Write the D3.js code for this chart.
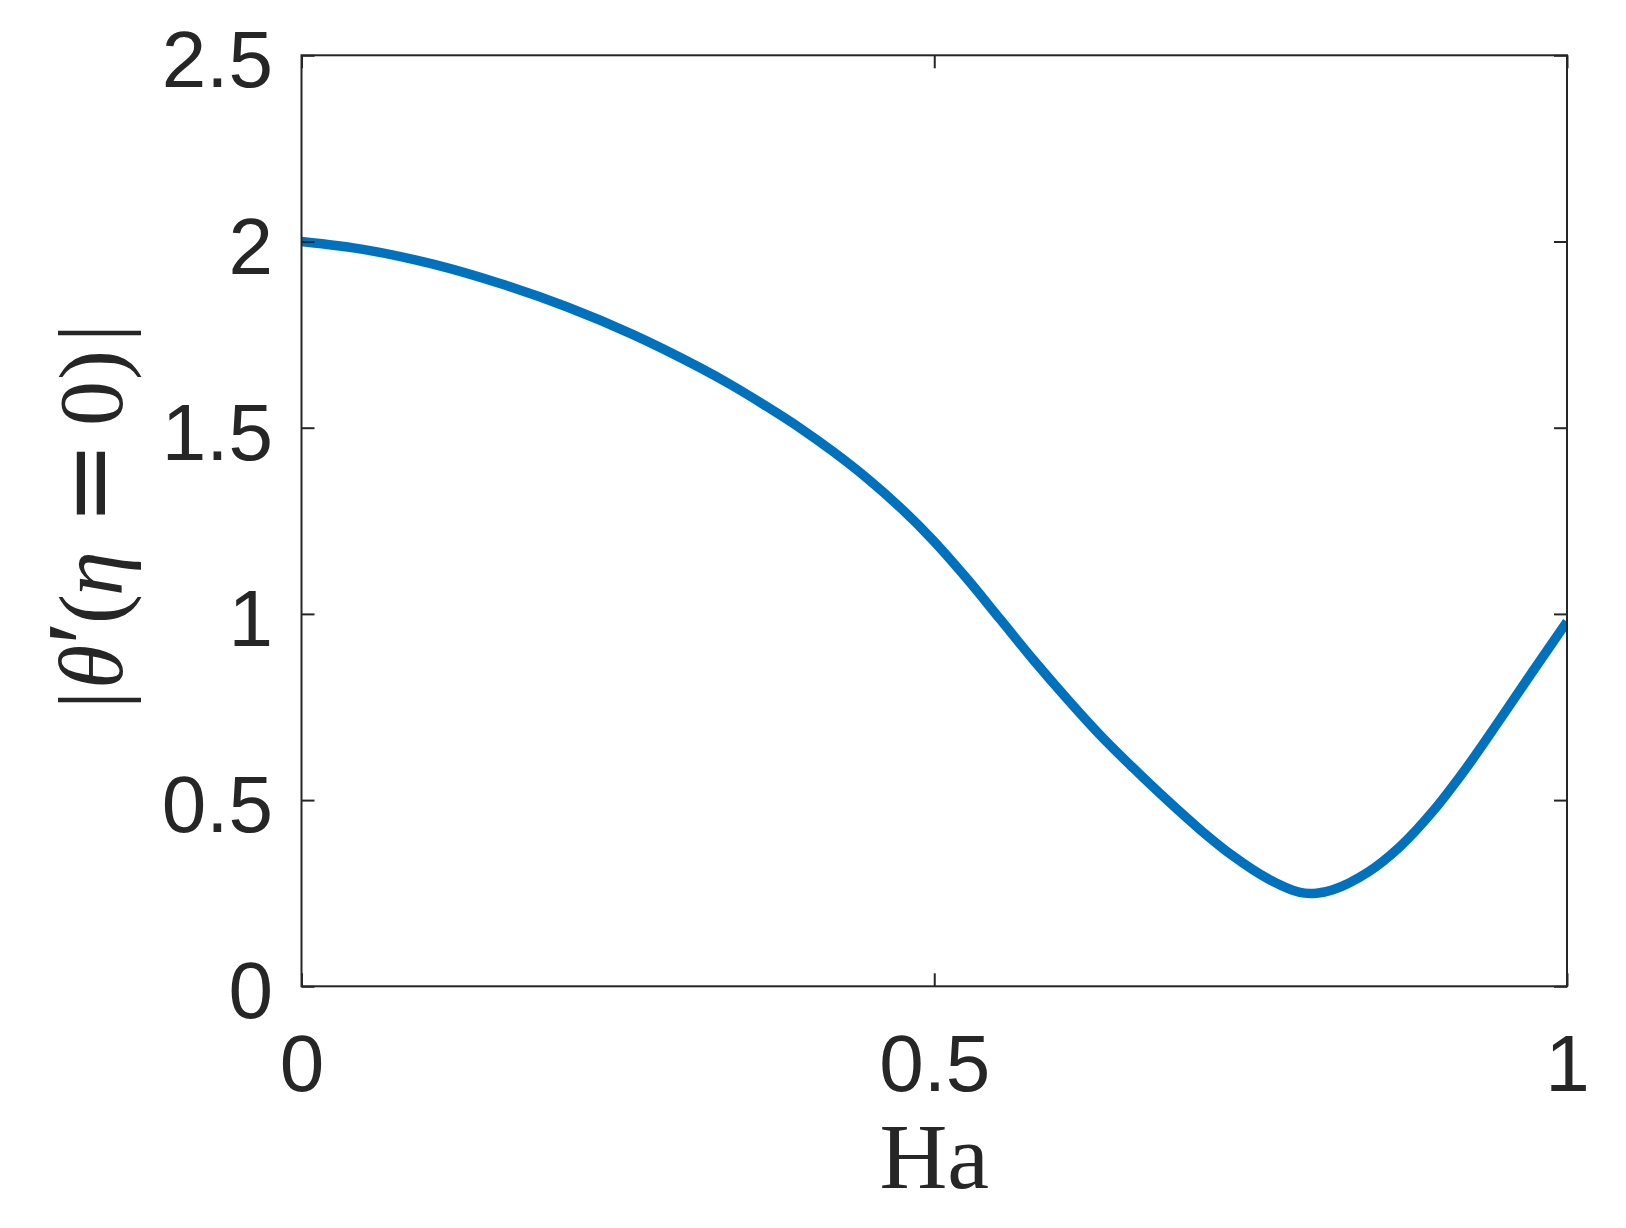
<!DOCTYPE html>
<html>
<head>
<meta charset="utf-8">
<script src="https://cdn.jsdelivr.net/npm/d3@7"></script>
<style>
  html, body { margin: 0; padding: 0; background: #ffffff; }
  svg { display: block; }
</style>
</head>
<body>
<div id="chart"></div>
<script>
// ---- data ----
const haValues = [0, 0.052, 0.104, 0.157, 0.210, 0.262, 0.315, 0.341, 0.368, 0.394, 0.420, 0.447, 0.473, 0.499, 0.526, 0.552, 0.578, 0.605, 0.631, 0.657, 0.684, 0.710, 0.736, 0.763, 0.789, 0.802, 0.815, 0.842, 0.868, 0.894, 0.921, 0.947, 0.973, 1.000];
const thetaPrime = [2.000, 1.977, 1.939, 1.887, 1.824, 1.750, 1.661, 1.612, 1.556, 1.499, 1.436, 1.364, 1.286, 1.198, 1.094, 0.986, 0.878, 0.772, 0.675, 0.587, 0.500, 0.421, 0.350, 0.290, 0.252, 0.250, 0.259, 0.305, 0.375, 0.470, 0.589, 0.716, 0.846, 0.979];
const xTicks = [0, 0.5, 1];
const xTickLabels = ["0", "0.5", "1"];
const yTicks = [0, 0.5, 1, 1.5, 2, 2.5];
const yTickLabels = ["0", "0.5", "1", "1.5", "2", "2.5"];
const xLabel = "Ha";

const W = 1626, H = 1228;
const plot = { left: 301.5, right: 1567, top: 55.3, bottom: 986.3 };
const axisColor = "#262626";
const lineColor = "#0072BD";
const tickLen = 13;

const svg = d3.select("#chart").append("svg")
  .attr("width", W).attr("height", H)
  .attr("viewBox", `0 0 ${W} ${H}`);

const x = d3.scaleLinear().domain([0, 1]).range([plot.left, plot.right]);
const y = d3.scaleLinear().domain([0, 2.5]).range([plot.bottom, plot.top]);

svg.append("defs").append("clipPath").attr("id", "clip")
  .append("rect")
  .attr("x", plot.left).attr("y", plot.top)
  .attr("width", plot.right - plot.left).attr("height", plot.bottom - plot.top);

// data line
const data = haValues.map((h, i) => ({ x: h, y: thetaPrime[i] }));
const line = d3.line().x(d => x(d.x)).y(d => y(d.y)).curve(d3.curveCatmullRom.alpha(0.5));
svg.append("path")
  .datum(data)
  .attr("clip-path", "url(#clip)")
  .attr("d", line)
  .attr("fill", "none")
  .attr("stroke", lineColor)
  .attr("stroke-width", 9.5)
  .attr("stroke-linejoin", "round")
  .attr("stroke-linecap", "butt");

// axes (MATLAB-style, ticks inward, box on)
const fontSans = "'Liberation Sans', Arial, Helvetica, sans-serif";

const axBottom = d3.axisBottom(x).tickValues(xTicks).tickSizeInner(-tickLen).tickSizeOuter(0)
  .tickFormat((d, i) => xTickLabels[i]).tickPadding(0);
const axTop = d3.axisTop(x).tickValues(xTicks).tickSizeInner(-tickLen).tickSizeOuter(0).tickFormat("");
const axLeft = d3.axisLeft(y).tickValues(yTicks).tickSizeInner(-tickLen).tickSizeOuter(0)
  .tickFormat((d, i) => yTickLabels[i]).tickPadding(0);
const axRight = d3.axisRight(y).tickValues(yTicks).tickSizeInner(-tickLen).tickSizeOuter(0).tickFormat("");

function styleAxis(g) {
  g.select(".domain").remove();
  g.selectAll(".tick line").attr("stroke", axisColor).attr("stroke-width", 2);
}

const gB = svg.append("g").attr("transform", `translate(0,${plot.bottom})`).call(axBottom).call(styleAxis);
gB.selectAll(".tick text")
  .attr("y", 1091 - plot.bottom).attr("dy", null)
  .attr("fill", axisColor)
  .style("font-family", fontSans).style("font-size", "80px");

svg.append("g").attr("transform", `translate(0,${plot.top})`).call(axTop).call(styleAxis);

const gL = svg.append("g").attr("transform", `translate(${plot.left},0)`).call(axLeft).call(styleAxis);
gL.selectAll(".tick text")
  .attr("x", 273 - plot.left).attr("dy", null).attr("y", 31.5)
  .attr("text-anchor", "end")
  .attr("fill", axisColor)
  .style("font-family", fontSans).style("font-size", "80px");

svg.append("g").attr("transform", `translate(${plot.right},0)`).call(axRight).call(styleAxis);

// box
svg.append("rect")
  .attr("x", plot.left).attr("y", plot.top)
  .attr("width", plot.right - plot.left).attr("height", plot.bottom - plot.top)
  .attr("fill", "none").attr("stroke", axisColor).attr("stroke-width", 2);

// x label
const fontSerif = "'Liberation Serif', 'Times New Roman', 'DejaVu Serif', serif";
svg.append("text")
  .attr("x", (plot.left + plot.right) / 2).attr("y", 1188)
  .attr("text-anchor", "middle")
  .attr("fill", axisColor)
  .style("font-family", fontSerif).style("font-size", "94px")
  .text(xLabel);

// y label |θ′(η = 0)|  (rotated; positions along the text run)
const yl = svg.append("text")
  .attr("transform", `translate(122,705) rotate(-90)`)
  .attr("text-anchor", "start")
  .attr("fill", axisColor)
  .style("font-family", fontSerif).style("font-size", "90px");
const parts = [
  { t: "|", at: -4 },
  { t: "θ", at: 16, italic: true },
  { t: "′", at: 60, size: 110 },
  { t: "(", at: 81 },
  { t: "η", at: 109, italic: true },
  { t: "=", at: 180, font: "'DejaVu Sans', sans-serif", size: 100 },
  { t: "0", at: 279 },
  { t: ")", at: 325 },
  { t: "|", at: 363 }
];
parts.forEach(p => {
  const ts = yl.append("tspan").attr("x", p.at).attr("y", 0).text(p.t);
  if (p.italic) ts.style("font-style", "italic");
  if (p.font) ts.style("font-family", p.font);
  if (p.size) ts.style("font-size", p.size + "px");
});
</script>
</body>
</html>
